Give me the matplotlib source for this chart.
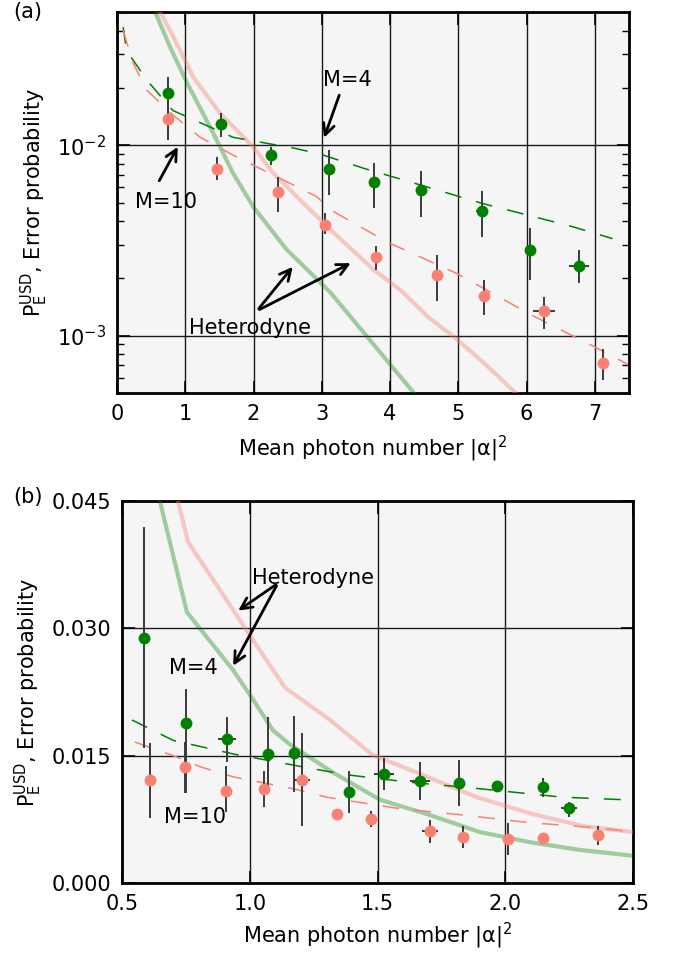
import matplotlib
matplotlib.use("Agg")
import matplotlib.pyplot as plt
import numpy as np
from matplotlib.ticker import LogLocator, NullFormatter

plt.rcParams["font.family"] = ["DejaVu Sans"]
plt.rcParams["font.size"] = 15
plt.rcParams["mathtext.default"] = "regular"

GREEN = "green"
RED = "salmon"
BG = "#f5f5f5"

# ─── Panel (a): dados ─────────────────────────────────────────────────────────
a_m4_x = [0.75, 1.52, 2.26, 3.11, 3.76, 4.46, 5.34, 6.05, 6.77]
a_m4_y = [0.0189, 0.0129, 0.00886, 0.00748, 0.0064, 0.00581, 0.00451, 0.00282, 0.00232]
a_m4_lo = [0.0147, 0.0110, 0.00786, 0.0055, 0.0047, 0.0042, 0.0033, 0.00196, 0.00188]
a_m4_hi = [0.0227, 0.0147, 0.00976, 0.0094, 0.0081, 0.0073, 0.00574, 0.00368, 0.00282]
a_m4_xerr = [0.0, 0.0, 0.0, 0.0, 0.0, 0.0, 0.08, 0.08, 0.15]

a_m10_x = [0.75, 1.47, 2.36, 3.04, 3.79, 4.69, 5.37, 6.26, 7.12]
a_m10_y = [0.01368, 0.00749, 0.00568, 0.00381, 0.00259, 0.00208, 0.00162, 0.00135, 0.000723]
a_m10_lo = [0.0106, 0.00655, 0.00446, 0.0034, 0.00222, 0.00152, 0.00129, 0.00109, 0.000587]
a_m10_hi = [0.0172, 0.00866, 0.0068, 0.0044, 0.00296, 0.00265, 0.00196, 0.00160, 0.000855]
a_m10_xerr = [0.0, 0.0, 0.0, 0.0, 0.0, 0.0, 0.07, 0.16, 0.08]

# curvas teóricas (tracejadas)
a_th4_x = [0.09, 0.14, 0.44, 0.82, 1.7, 2.6, 2.98, 3.61, 4.4, 5.33, 6.69, 7.26]
a_th4_y = [0.0417, 0.0314, 0.0219, 0.0152, 0.0110, 0.00964, 0.00897, 0.00757, 0.00625,
           0.00497, 0.00372, 0.00323]
a_th10_x = [0.09, 0.24, 0.44, 0.82, 1.22, 1.7, 2.93, 3.13, 3.96, 4.99, 6.06, 6.99, 7.48]
a_th10_y = [0.040, 0.0268, 0.0194, 0.0144, 0.0110, 0.00887, 0.00536, 0.00457, 0.0031,
            0.00211, 0.00129, 0.000875, 0.000708]

# heterodyne
a_het4_x = [0.56, 0.78, 1.03, 1.41, 1.7, 2.0, 2.49, 2.98, 3.13, 4.35]
a_het4_y = [0.05, 0.0326, 0.0211, 0.01156, 0.00713, 0.00473, 0.00282, 0.0019, 0.00168,
            0.0005]
a_het10_x = [0.63, 0.78, 1.12, 1.51, 2.0, 2.29, 2.69, 3.2, 3.76, 4.15, 4.55, 4.99, 5.43, 5.84]
a_het10_y = [0.05, 0.040, 0.0227, 0.0147, 0.00976, 0.00713, 0.00513, 0.0034, 0.00222,
             0.00174, 0.00126, 0.00095, 0.00069, 0.0005]

# ─── Panel (b): dados ─────────────────────────────────────────────────────────
b_m4_x = [0.586, 0.75, 0.911, 1.073, 1.173, 1.388, 1.526, 1.666, 1.819, 1.968, 2.148, 2.25]
b_m4_y = [0.0289, 0.01885, 0.017, 0.0152, 0.0153, 0.0107, 0.0128, 0.012, 0.0118, 0.0114,
          0.0113, 0.00883]
b_m4_lo = [0.0159, 0.0106, 0.0143, 0.0106, 0.0107, 0.00825, 0.011, 0.0098, 0.0091, 0.0107,
           0.0101, 0.0078]
b_m4_hi = [0.0419, 0.0229, 0.0196, 0.0196, 0.0197, 0.0132, 0.0147, 0.0143, 0.0145, 0.012,
           0.0124, 0.0095]
b_m4_xerr = [0.0, 0.0, 0.035, 0.0, 0.0, 0.0, 0.04, 0.04, 0.0, 0.0, 0.0, 0.03]

b_m10_x = [0.61, 0.747, 0.907, 1.056, 1.204, 1.34, 1.475, 1.705, 1.835, 2.01, 2.148, 2.363]
b_m10_y = [0.0121, 0.01366, 0.0108, 0.0111, 0.0121, 0.0081, 0.0075, 0.0061, 0.0054, 0.0052,
           0.0053, 0.0057]
b_m10_lo = [0.0077, 0.0106, 0.0084, 0.009, 0.0067, 0.0081, 0.0066, 0.0047, 0.0041, 0.0033,
            0.0053, 0.0045]
b_m10_hi = [0.0165, 0.0166, 0.0138, 0.0132, 0.0177, 0.0081, 0.0085, 0.0074, 0.0067, 0.0071,
            0.0053, 0.0067]
b_m10_xerr = [0.0, 0.0, 0.0, 0.0, 0.03, 0.0, 0.0, 0.03, 0.0, 0.0, 0.0, 0.0]

b_th4_x = [0.539, 0.70, 0.935, 1.275, 1.392, 1.615, 1.9, 2.226, 2.469]
b_th4_y = [0.0192, 0.0168, 0.0152, 0.0133, 0.0127, 0.0119, 0.0111, 0.0101, 0.0098]
b_th10_x = [0.55, 0.70, 0.805, 0.935, 1.17, 1.302, 1.576, 1.835, 2.097, 2.359, 2.496]
b_th10_y = [0.0166, 0.0150, 0.0137, 0.0125, 0.0111, 0.0101, 0.0088, 0.0080, 0.0071,
            0.0065, 0.0060]

b_het4_x = [0.649, 0.754, 0.934, 1.013, 1.09, 1.158, 1.326, 1.51, 1.705, 1.9, 2.097, 2.29, 2.5]
b_het4_y = [0.0449, 0.0319, 0.0251, 0.0216, 0.018, 0.0163, 0.013, 0.0098, 0.008, 0.006,
            0.0048, 0.0039, 0.0032]
b_het10_x = [0.72, 0.758, 1.013, 1.138, 1.314, 1.48, 1.678, 1.889, 2.097, 2.304, 2.5]
b_het10_y = [0.0449, 0.0402, 0.0286, 0.023, 0.0192, 0.0151, 0.0127, 0.0101, 0.0082,
             0.0067, 0.0060]


def err(y, lo, hi):
    y = np.asarray(y)
    return [y - np.asarray(lo), np.asarray(hi) - y]


def draw_points(ax, x, y, lo, hi, xerr, color):
    ax.errorbar(x, y, yerr=err(y, lo, hi), xerr=xerr, fmt="none",
                ecolor="#3a3a3a", elinewidth=1.4, capsize=0, zorder=4)
    ax.plot(x, y, "o", color=color, markersize=7.5, zorder=5)


def style_axes(ax):
    ax.set_facecolor(BG)
    for sp in ax.spines.values():
        sp.set_linewidth(2)
    ax.grid(True, which="major", color="0.1", linewidth=1.0)
    ax.set_axisbelow(True)
    ax.tick_params(which="major", direction="in", length=9, width=1.2,
                   top=True, right=True, pad=8)
    ax.tick_params(which="minor", direction="in", length=5, width=1.0,
                   top=False, right=True)


arrow = dict(arrowstyle="->", lw=2, color="black", mutation_scale=20)
DASH = (11, 10)

fig = plt.figure(figsize=(6.73, 9.56), dpi=100)

# ─── Panel (a) ────────────────────────────────────────────────────────────────
ax1 = fig.add_axes([0.1738, 0.5889, 0.7608, 0.3985])
style_axes(ax1)
ax1.set_yscale("log")
ax1.set_xlim(0, 7.5)
ax1.set_ylim(5e-4, 5e-2)
ax1.set_xticks(range(8))
ax1.yaxis.set_major_locator(LogLocator(base=10, numticks=10))
ax1.yaxis.set_minor_locator(LogLocator(base=10, subs=np.arange(2, 10), numticks=20))
ax1.yaxis.set_minor_formatter(NullFormatter())

ax1.plot(a_het4_x, a_het4_y, color=GREEN, alpha=0.35, lw=3, zorder=3)
ax1.plot(a_het10_x, a_het10_y, color=RED, alpha=0.4, lw=3, zorder=3)
ax1.plot(a_th4_x, a_th4_y, color=GREEN, lw=1.1, dashes=DASH, zorder=3)
ax1.plot(a_th10_x, a_th10_y, color=RED, lw=1.1, dashes=DASH, zorder=3)
draw_points(ax1, a_m4_x, a_m4_y, a_m4_lo, a_m4_hi, a_m4_xerr, GREEN)
draw_points(ax1, a_m10_x, a_m10_y, a_m10_lo, a_m10_hi, a_m10_xerr, RED)

ax1.text(3.38, 0.0219, "M=4", ha="center", va="center")
ax1.annotate("", xy=(3.02, 0.0106), xytext=(3.27, 0.0189), arrowprops=arrow)
ax1.text(0.72, 0.00504, "M=10", ha="center", va="center")
ax1.annotate("", xy=(0.91, 0.0101), xytext=(0.60, 0.00632), arrowprops=arrow)
ax1.text(1.95, 0.0011, "Heterodyne", ha="center", va="center")
ax1.annotate("", xy=(2.6, 0.00236), xytext=(2.05, 0.00135), arrowprops=arrow)
ax1.annotate("", xy=(3.46, 0.00244), xytext=(2.05, 0.00135), arrowprops=arrow)

ax1.set_xlabel(r"Mean photon number |α|$^2$", labelpad=7)
ax1.set_ylabel(r"P$_\mathrm{E}^\mathrm{USD}$, Error probability", labelpad=5)
fig.text(0.02, 0.987, "(a)", ha="left", va="center")

# ─── Panel (b) ────────────────────────────────────────────────────────────────
ax2 = fig.add_axes([0.1813, 0.0764, 0.7593, 0.3996])
style_axes(ax2)
ax2.set_xlim(0.5, 2.5)
ax2.set_ylim(0, 0.045)
ax2.set_xticks([0.5, 1.0, 1.5, 2.0, 2.5])
ax2.set_yticks([0.0, 0.015, 0.030, 0.045])
ax2.set_yticklabels(["0.000", "0.015", "0.030", "0.045"])

ax2.plot(b_het4_x, b_het4_y, color=GREEN, alpha=0.35, lw=3, zorder=3)
ax2.plot(b_het10_x, b_het10_y, color=RED, alpha=0.4, lw=3, zorder=3)
ax2.plot(b_th4_x, b_th4_y, color=GREEN, lw=1.1, dashes=DASH, zorder=3)
ax2.plot(b_th10_x, b_th10_y, color=RED, lw=1.1, dashes=DASH, zorder=3)
draw_points(ax2, b_m4_x, b_m4_y, b_m4_lo, b_m4_hi, b_m4_xerr, GREEN)
draw_points(ax2, b_m10_x, b_m10_y, b_m10_lo, b_m10_hi, b_m10_xerr, RED)

ax2.text(1.248, 0.0359, "Heterodyne", ha="center", va="center")
ax2.annotate("", xy=(0.946, 0.0319), xytext=(1.11, 0.0353), arrowprops=arrow)
ax2.annotate("", xy=(0.93, 0.0253), xytext=(1.11, 0.0353), arrowprops=arrow)
ax2.text(0.778, 0.0253, "M=4", ha="center", va="center")
ax2.text(0.786, 0.0078, "M=10", ha="center", va="center")

ax2.set_xlabel(r"Mean photon number |α|$^2$", labelpad=5)
ax2.set_ylabel(r"P$_\mathrm{E}^\mathrm{USD}$, Error probability", labelpad=5)
fig.text(0.02, 0.48, "(b)", ha="left", va="center")

fig.savefig("out.png", dpi=100)
plt.close(fig)
